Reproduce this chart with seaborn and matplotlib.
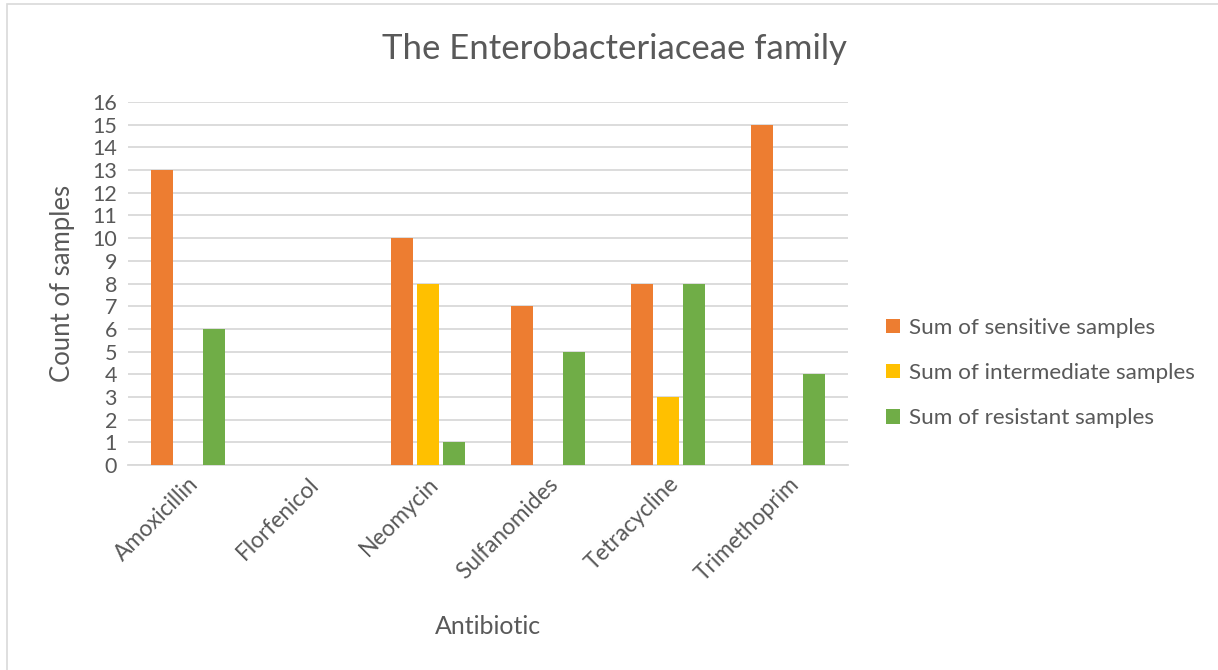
import matplotlib
matplotlib.use("Agg")
import matplotlib.pyplot as plt
from matplotlib.patches import Rectangle
import seaborn as sns
import pandas as pd

antibiotics = ["Amoxicillin", "Florfenicol", "Neomycin", "Sulfanomides", "Tetracycline", "Trimethoprim"]
series_names = ["Sum of sensitive samples", "Sum of intermediate samples", "Sum of resistant samples"]
sensitive = [13, 0, 10, 7, 8, 15]
intermediate = [0, 0, 8, 0, 3, 0]
resistant = [6, 0, 1, 5, 8, 4]
y_ticks = list(range(0, 17))

colors = ["#ED7D31", "#FFC000", "#70AD47"]
text_color = "#595959"
grid_color = "#D9D9D9"

rows = []
for name, vals in zip(series_names, [sensitive, intermediate, resistant]):
    for ab, v in zip(antibiotics, vals):
        rows.append({"Antibiotic": ab, "Series": name, "Count": v})
df = pd.DataFrame(rows)

sns.set_theme(style="white")
plt.rcParams["font.family"] = ["Lato", "DejaVu Sans"]

fig = plt.figure(figsize=(12.18, 6.70), dpi=100)
ax = fig.add_axes([128 / 1218, 1 - 465 / 670, 720 / 1218, 363 / 670])

sns.barplot(data=df, x="Antibiotic", y="Count", hue="Series", hue_order=series_names,
            order=antibiotics, palette=colors, width=0.66, gap=0.17, saturation=1,
            errorbar=None, linewidth=0, ax=ax, zorder=3)

ax.set_xlim(-0.5, len(antibiotics) - 0.5)
ax.set_ylim(0, 16)
ax.set_yticks(y_ticks)
ax.grid(axis="y", color=grid_color, linewidth=1.3, zorder=0)
ax.grid(axis="x", visible=False)
for side in ["top", "right", "left"]:
    ax.spines[side].set_visible(False)
ax.spines["bottom"].set_color(grid_color)
ax.spines["bottom"].set_linewidth(1.3)
ax.tick_params(axis="both", length=0, colors=text_color)
ax.tick_params(axis="y", pad=8, labelsize=15.5)
ax.tick_params(axis="x", pad=6, labelsize=16.3)
plt.setp(ax.get_xticklabels(), rotation=45, ha="right", rotation_mode="anchor")

ax.set_xlabel("Antibiotic", fontsize=18, color=text_color, labelpad=22)
ax.set_ylabel("Count of samples", fontsize=18.5, color=text_color, labelpad=12)
fig.text(614 / 1218, 1 - 49 / 670, "The Enterobacteriaceae family", fontsize=25,
         color=text_color, ha="center", va="center")

leg = ax.legend(loc="center left", bbox_to_anchor=(1.025, 0.253), frameon=False,
                fontsize=16.2, labelcolor=text_color, handlelength=0.6, handleheight=0.6,
                handletextpad=0.4, labelspacing=1.12)

fig.patches.append(Rectangle((7 / 1218, -0.05), 1.2, 1.05 - 4 / 670,
                             transform=fig.transFigure, fill=False,
                             edgecolor=grid_color, linewidth=1.2))

fig.savefig("out.png", dpi=100, facecolor="white")
